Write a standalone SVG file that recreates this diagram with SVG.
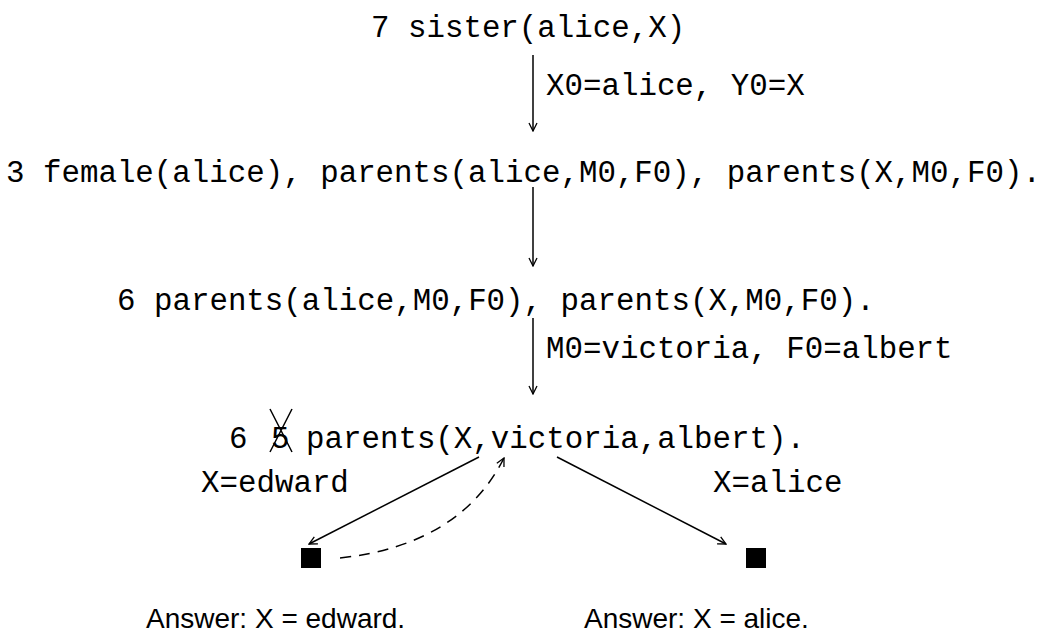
<svg xmlns="http://www.w3.org/2000/svg" width="1054" height="639" viewBox="0 0 1054 639">
<defs>
<style>
.m{font-family:"Liberation Mono","Courier New",monospace;font-size:30.8px;fill:#000}
.s{font-family:"Liberation Sans",Arial,sans-serif;font-size:28px;fill:#000}
.e{stroke:#000;stroke-width:1.5;fill:none}
</style>
<marker id="ah" viewBox="0 0 10 10" refX="9" refY="5" markerWidth="10" markerHeight="10" markerUnits="userSpaceOnUse" orient="auto">
<path d="M1,1 L9,5 L1,9" fill="none" stroke="#000" stroke-width="1.3"/>
</marker>
</defs>
<rect width="1054" height="639" fill="#fff"/>
<g id="n1"><text class="m" x="371" y="37">7 sister(alice,X)</text></g>
<g id="n2"><text class="m" x="6" y="182">3 female(alice), parents(alice,M0,F0), parents(X,M0,F0).</text></g>
<g id="n3"><text class="m" x="117" y="310">6 parents(alice,M0,F0), parents(X,M0,F0).</text></g>
<g id="n4"><text class="m" x="229" y="448">6</text><text class="m" x="271" y="448">5</text><text class="m" x="306" y="448">parents(X,victoria,albert).</text>
<path class="e" d="M270,409 L292,452 M292,409 L270,452"/></g>
<g id="leaf1"><rect x="301" y="548" width="20" height="20" fill="#000"/><text class="s" x="146" y="628">Answer: X = edward.</text></g>
<g id="leaf2"><rect x="746" y="548" width="20" height="20" fill="#000"/><text class="s" x="584" y="628">Answer: X = alice.</text></g>
<g id="connectors">
<line class="e" x1="533" y1="55" x2="533" y2="131" marker-end="url(#ah)"/>
<line class="e" x1="533" y1="187" x2="533" y2="266" marker-end="url(#ah)"/>
<line class="e" x1="533" y1="318" x2="533" y2="394" marker-end="url(#ah)"/>
<line class="e" x1="479" y1="457" x2="309" y2="544" marker-end="url(#ah)"/>
<line class="e" x1="557" y1="457" x2="726" y2="544" marker-end="url(#ah)"/>
<path class="e" d="M340,558 Q460,545 504,458" stroke-dasharray="11,8" marker-end="url(#ah)"/>
<text class="m" x="546" y="95">X0=alice, Y0=X</text>
<text class="m" x="546" y="358">M0=victoria, F0=albert</text>
<text class="m" x="201" y="492">X=edward</text>
<text class="m" x="713" y="492">X=alice</text>
</g>
</svg>
